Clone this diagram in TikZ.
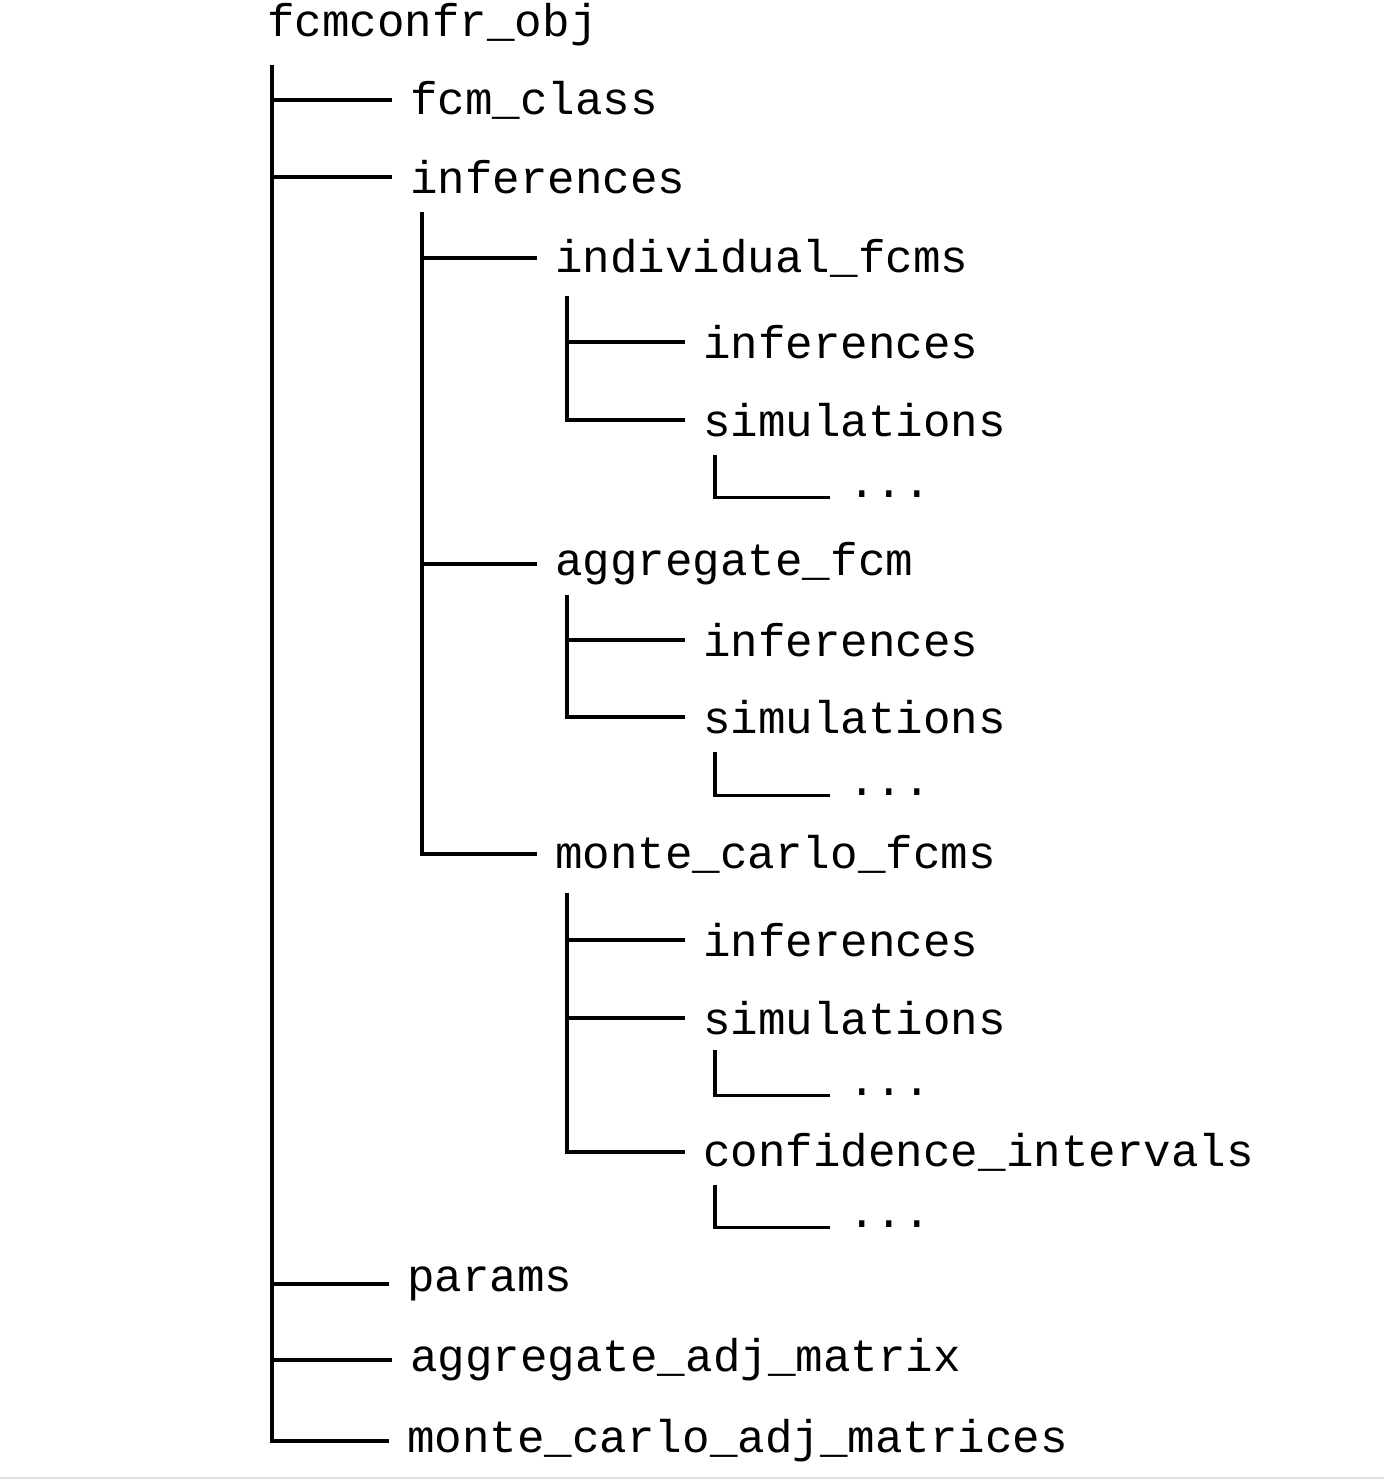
\documentclass[tikz,border=0pt]{standalone}
\usepackage{fontspec}
\setmonofont{Liberation Mono}
\tikzset{>=stealth}
\colorlet{penColor}{black}
\tikzset{
  item/.style={anchor=west, inner sep=0pt, font=\fontsize{26.1}{30}\selectfont\ttfamily},
  branch/.style={penColor, line width=2pt}
}
\begin{document}
\begin{tikzpicture}[x=0.02cm, y=-0.02cm]
\useasboundingbox (0,0) rectangle (1384,1482);
\draw[black!12, line width=0.8pt] (0,1478) -- (1384,1478);
% root
\node[item] (root) at (267,25) {fcmconfr\_obj};
\node[item] (fcmclass) at (410,100) {fcm\_class};
\node[item] (inf) at (410,177) {inferences};
\node[item] (params) at (407,1284) {params};
\node[item] (aggadj) at (410,1360) {aggregate\_adj\_matrix};
\node[item] (mcadj) at (407,1441) {monte\_carlo\_adj\_matrices};
% inferences
\node[item] (indiv) at (555,258) {individual\_fcms};
\node[item] (agg) at (555,564) {aggregate\_fcm};
\node[item] (mc) at (555,854) {monte\_carlo\_fcms};
% individual_fcms
\node[item] (indivinf) at (703,342) {inferences};
\node[item] (indivsim) at (703,420) {simulations};
\node[item] (indivdots) at (848,494) {...};
% aggregate_fcm
\node[item] (agginf) at (703,640) {inferences};
\node[item] (aggsim) at (703,717) {simulations};
\node[item] (aggdots) at (848,792) {...};
% monte_carlo_fcms
\node[item] (mcinf) at (703,940) {inferences};
\node[item] (mcsim) at (703,1018) {simulations};
\node[item] (mcsimdots) at (848,1092) {...};
\node[item] (mcci) at (703,1152) {confidence\_intervals};
\node[item] (mccidots) at (848,1224) {...};
% spines
\coordinate (s0) at (272,65);
\coordinate (s1) at (422,212);
\coordinate (s2) at (567,296);
\coordinate (s3) at (715,455);
\coordinate (s4) at (567,595);
\coordinate (s5) at (715,752);
\coordinate (s6) at (567,893);
\coordinate (s7) at (715,1050);
\coordinate (s8) at (715,1185);
\draw[branch] (s0) |- ([xshift=-10.5pt]mcadj.west);
\foreach \c in {fcmclass,inf,params,aggadj}
  \draw[branch] (s0 |- \c.west) -- ([xshift=-10.5pt]\c.west);
\draw[branch] (s1) |- ([xshift=-10.5pt]mc.west);
\foreach \c in {indiv,agg}
  \draw[branch] (s1 |- \c.west) -- ([xshift=-10.5pt]\c.west);
\draw[branch] (s2) |- ([xshift=-10.5pt]indivsim.west);
\draw[branch] (s2 |- indivinf.west) -- ([xshift=-10.5pt]indivinf.west);
\draw[branch] (s3) |- ([xshift=-10.5pt,yshift=-2pt]indivdots.west);
\draw[branch] (s4) |- ([xshift=-10.5pt]aggsim.west);
\draw[branch] (s4 |- agginf.west) -- ([xshift=-10.5pt]agginf.west);
\draw[branch] (s5) |- ([xshift=-10.5pt,yshift=-2pt]aggdots.west);
\draw[branch] (s6) |- ([xshift=-10.5pt]mcci.west);
\foreach \c in {mcinf,mcsim}
  \draw[branch] (s6 |- \c.west) -- ([xshift=-10.5pt]\c.west);
\draw[branch] (s7) |- ([xshift=-10.5pt,yshift=-2pt]mcsimdots.west);
\draw[branch] (s8) |- ([xshift=-10.5pt,yshift=-2pt]mccidots.west);
\end{tikzpicture}
\end{document}
